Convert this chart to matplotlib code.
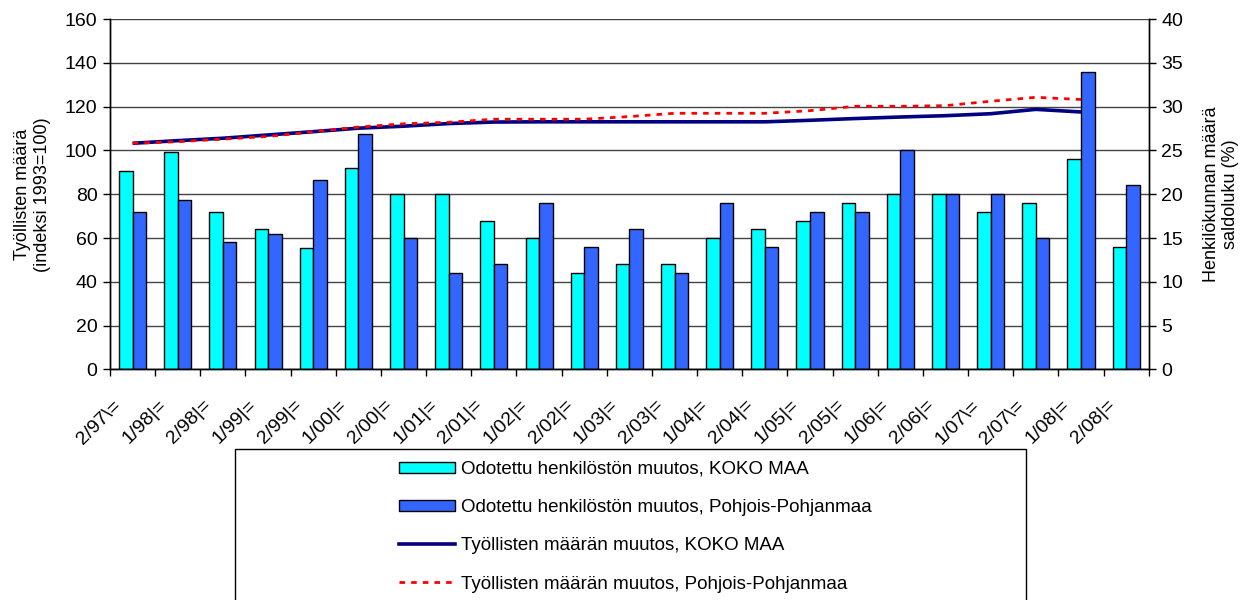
import matplotlib
matplotlib.use('Agg')
import matplotlib.pyplot as plt
import matplotlib.transforms as mtransforms
from matplotlib.patches import Rectangle, Patch
from matplotlib.lines import Line2D
import numpy as np

plt.rcParams['font.family'] = ['Liberation Sans', 'DejaVu Sans']

# Kyselyjaksot
periods = ['2/97', '1/98', '2/98', '1/99', '2/99', '1/00', '2/00', '1/01', '2/01',
           '1/02', '2/02', '1/03', '2/03', '1/04', '2/04', '1/05', '2/05', '1/06',
           '2/06', '1/07', '2/07', '1/08', '2/08']
tick_labels = [p + ('\\=' if p.endswith('7') else '|=') for p in periods]

# Odotettu henkilöstön muutos, saldoluku (%)
koko_maa_saldo = [22.7, 24.8, 18, 16, 13.9, 23, 20, 20, 17, 15, 11, 12, 12, 15, 16,
                  17, 19, 20, 20, 18, 19, 24, 14]
pp_saldo = [18, 19.4, 14.5, 15.5, 21.6, 26.9, 15, 11, 12, 19, 14, 16, 11, 19, 14,
            18, 18, 25, 20, 20, 15, 34, 21]

# Työllisten määrä, indeksi 1993=100 (ei viimeistä jaksoa)
koko_maa_index = [103.3, 104.5, 105.6, 107.1, 108.6, 110.2, 111.1, 112.3, 113.0,
                  113.1, 113.1, 113.1, 113.1, 113.1, 113.1, 113.8, 114.6, 115.3,
                  115.9, 116.8, 118.8, 117.6]
pp_index = [103.3, 104.0, 105.2, 106.4, 108.6, 110.7, 112.2, 112.9, 114.3, 114.3,
            114.3, 115.5, 117.0, 117.0, 117.0, 118.2, 120.2, 120.2, 120.5, 122.5,
            124.3, 123.3]

CYAN = '#00FFFF'
BLUE = '#3366FF'
NAVY = '#000080'
RED = '#FF0000'

fig = plt.figure(figsize=(12.5, 6), dpi=100)
ax = fig.add_axes([0.088, 0.3845, 0.831, 0.5835])
x = np.arange(len(periods))

ax.bar(x - 0.15, koko_maa_saldo, 0.3, color=CYAN, edgecolor='black', linewidth=1, zorder=2)
ax.bar(x + 0.15, pp_saldo, 0.3, color=BLUE, edgecolor='black', linewidth=1, zorder=2)
ax.set_ylim(0, 40)
ax.set_xlim(-0.5, len(periods) - 0.5)
ax.set_yticks(range(0, 41, 5))
ax.grid(axis='y', color='#444444', linewidth=1)
ax.set_axisbelow(True)

axl = ax.twinx()
ax.yaxis.tick_right()
ax.yaxis.set_label_position('right')
axl.yaxis.tick_left()
axl.yaxis.set_label_position('left')

lx = np.arange(len(koko_maa_index))
axl.plot(lx, koko_maa_index, color=NAVY, linewidth=2.6, solid_capstyle='butt')
axl.plot(lx, pp_index, color=RED, linewidth=2, dashes=(2, 2.2))
axl.set_ylim(0, 160)
axl.set_yticks(range(0, 161, 20))

for a in (ax, axl):
    a.spines['top'].set_visible(False)
    for s in ('left', 'right', 'bottom'):
        a.spines[s].set_color('black')
        a.spines[s].set_linewidth(1)

ax.tick_params(axis='y', labelsize=14, length=5, width=1, pad=4)
axl.tick_params(axis='y', labelsize=14, length=5, width=1, pad=4)

ax.set_xticks(x)
ax.set_xticklabels(tick_labels, rotation=45, ha='right', va='center',
                   rotation_mode='anchor', fontsize=14)
ax.tick_params(axis='x', which='major', length=0, pad=24)
ax.set_xticks(np.arange(-0.5, len(periods)), minor=True)
ax.tick_params(axis='x', which='minor', length=5, width=1)
shift = mtransforms.ScaledTranslation(-0.14, 0, fig.dpi_scale_trans)
for lab in ax.get_xticklabels():
    lab.set_transform(lab.get_transform() + shift)

axl.set_ylabel('Työllisten määrä\n(indeksi 1993=100)', fontsize=13, labelpad=10)
ax.set_ylabel('Henkilökunnan määrä\nsaldoluku (%)', fontsize=13, labelpad=14)

# Selitelaatikko
box = Rectangle((235 / 1250, -0.05), (1026 - 235) / 1250, 1 - 449 / 600 + 0.05,
                transform=fig.transFigure, facecolor='white', edgecolor='black',
                linewidth=1, clip_on=False)
fig.patches.append(box)

handles = [
    Patch(facecolor=CYAN, edgecolor='black', linewidth=1),
    Patch(facecolor=BLUE, edgecolor='black', linewidth=1),
    Line2D([], [], color=NAVY, linewidth=2.6),
    Line2D([], [], color=RED, linewidth=2, dashes=(2, 2.2)),
]
names = [
    'Odotettu henkilöstön muutos, KOKO MAA',
    'Odotettu henkilöstön muutos, Pohjois-Pohjanmaa',
    'Työllisten määrän muutos, KOKO MAA',
    'Työllisten määrän muutos, Pohjois-Pohjanmaa',
]
fig.legend(handles, names, loc='upper left', bbox_to_anchor=(399 / 1250, 1 - 461 / 600),
           frameon=False, fontsize=13.5, handlelength=3.0, handleheight=0.55,
           handletextpad=0.32, labelspacing=1.13, borderpad=0, borderaxespad=0)

fig.savefig('out.png', dpi=100)
